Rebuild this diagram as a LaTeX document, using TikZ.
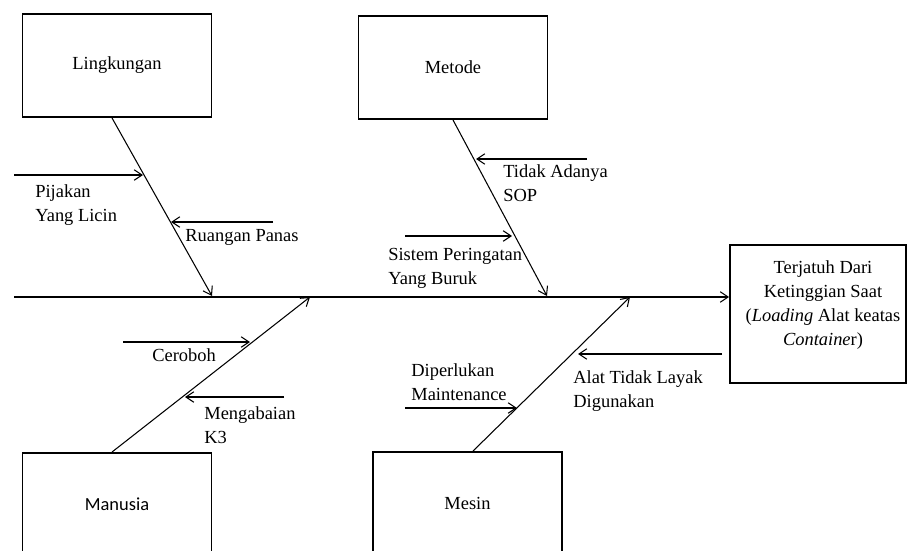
\documentclass[tikz,border=0pt]{standalone}
\usepackage{fontspec}
\setmainfont{Liberation Serif}
\newfontfamily\calibrifont{Carlito}
\usetikzlibrary{positioning}
\usetikzlibrary{arrows.meta, calc}

\begin{document}
\begin{tikzpicture}[x=0.02cm,y=-0.02cm,
  font=\fontsize{10.5}{13.6}\selectfont,
  catbox/.style={draw, line width=1.1pt, minimum width=3.78cm, minimum height=2.06cm},
  causetext/.style={anchor=west, inner sep=0pt, align=left},
  bone/.style={-{Straight Barb[length=4.5pt,width=6pt]}, line width=0.6pt}]
\useasboundingbox (0,0) rectangle (907,551);
\clip (0,0) rectangle (907,551);

% kategori
\node[catbox] (lingkungan) at (117,65.5) {Lingkungan};
\node[catbox] (metode) at (453,67.5) {Metode};
\node[catbox] (manusia) at (117,504.5) {\calibrifont Manusia};
\node[catbox] (mesin) at (467.5,503.5) {Mesin};

% akibat
\node[draw, line width=1.1pt, minimum width=3.52cm, minimum height=2.76cm] (effect) at (818,314) {};
\node[align=center, inner sep=0pt] (effectText) at (823,305) {Terjatuh Dari\\ Ketinggian Saat\\ (\textit{Loading} Alat keatas\\ \textit{Containe}r)};

% tulang utama
\coordinate (tail) at (14,297);
\draw[bone] (tail) -- (tail -| effect.west);

\coordinate (lHead) at (212,296);
\coordinate (mtHead) at (547,296);
\coordinate (mnHead) at (310,297);
\coordinate (msHead) at (630,297);
\draw[bone] ($(lingkungan.south)+(-5,0)$) -- (lHead);
\draw[bone] (metode.south) -- (mtHead);
\draw[bone] ($(manusia.north)+(-5,0)$) -- (mnHead);
\draw[bone] ($(mesin.north)+(5.5,0)$) -- (msHead);

% penyebab
\node[causetext] (pijakan) at (35,205.5) {Pijakan\\ Yang Licin};
\node[causetext] (ruangan) at (185,237) {Ruangan Panas};
\node[causetext] (sop) at (503,183.5) {Tidak Adanya\\ SOP};
\node[causetext] (sistem) at (388,268) {Sistem Peringatan\\ Yang Buruk};
\node[causetext] (ceroboh) at (152,355) {Ceroboh};
\node[causetext] (abai) at (204,425) {Mengabaian\\ K3};
\node[causetext] (rawat) at (411,382) {Diperlukan\\ Maintenance};
\node[causetext] (alat) at (573,391) {Alat Tidak Layak\\ Digunakan};

\coordinate (pijakanA) at (14,175);   \coordinate (pijakanB) at (143,175);
\coordinate (ruanganA) at (273,222);  \coordinate (ruanganB) at (171,222);
\coordinate (sopA) at (587,159);      \coordinate (sopB) at (476,159);
\coordinate (sistemA) at (405,236);   \coordinate (sistemB) at (512,236);
\coordinate (cerobohA) at (123,342);  \coordinate (cerobohB) at (250,342);
\coordinate (abaiA) at (284,397);     \coordinate (abaiB) at (185,397);
\coordinate (rawatA) at (405,408);    \coordinate (rawatB) at (517,408);
\coordinate (alatA) at (722,354);     \coordinate (alatB) at (578,354);

\draw[bone] (pijakanA) -- (pijakanB);
\draw[bone] (ruanganA) -- (ruanganB);
\draw[bone] (sopA) -- (sopB);
\draw[bone] (sistemA) -- (sistemB);
\draw[bone] (cerobohA) -- (cerobohB);
\draw[bone] (abaiA) -- (abaiB);
\draw[bone] (rawatA) -- (rawatB);
\draw[bone] (alatA) -- (alatB);

\end{tikzpicture}
\end{document}
